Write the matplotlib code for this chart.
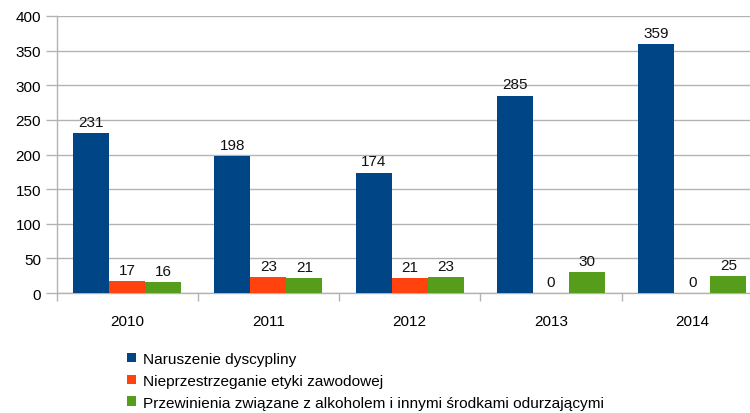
import matplotlib.pyplot as plt
import numpy as np
from matplotlib.patches import Patch

plt.rcParams['font.family'] = ['Liberation Sans', 'DejaVu Sans']

years = ["2010", "2011", "2012", "2013", "2014"]
dyscyplina = [231, 198, 174, 285, 359]
etyka = [17, 23, 21, 0, 0]
alkohol = [16, 21, 23, 30, 25]

series_names = ["Naruszenie dyscypliny",
                "Nieprzestrzeganie etyki zawodowej",
                "Przewinienia związane z alkoholem i innymi środkami odurzającymi"]
colors = ["#004586", "#ff420e", "#579d1c"]

fig = plt.figure(figsize=(7.5, 4.14), dpi=100)
ax = fig.add_axes([56.5 / 750, 1 - 294 / 414, 141.3 * 5 / 750, (294 - 17) / 414])

x = np.arange(len(years))
w = 0.255
grey = "#b3b3b3"

for i, vals in enumerate([dyscyplina, etyka, alkohol]):
    pos = x + (i - 1) * w
    ax.bar(pos, vals, width=w, color=colors[i], zorder=3)
    for p, v in zip(pos, vals):
        ax.text(p, v + 6, str(v), ha="center", va="bottom",
                fontsize=11, color="#111111")

ax.set_xlim(-0.5, len(years) - 0.5)
ax.set_ylim(0, 400)
ax.set_yticks(range(0, 401, 50))
ax.set_xticks(x)
ax.set_xticklabels(years)
ax.set_xticks(np.arange(-0.5, len(years), 1), minor=True)
ax.tick_params(axis="x", which="major", length=0, pad=15, labelsize=11)
ax.tick_params(axis="x", which="minor", length=6, color=grey, width=1)
ax.tick_params(axis="y", length=8, color=grey, width=1, pad=3, labelsize=11)
ax.grid(axis="y", color=grey, linewidth=1, zorder=0)

for side in ["top", "right"]:
    ax.spines[side].set_visible(False)
for side in ["left", "bottom"]:
    ax.spines[side].set_color(grey)
    ax.spines[side].set_linewidth(1)
ax.spines["left"].set_bounds(0, 400)

handles = [Patch(facecolor=c, edgecolor="none") for c in colors]
fig.legend(handles, series_names, loc="upper left",
           bbox_to_anchor=(121 / 750, 1 - 347 / 414), frameon=False,
           fontsize=11.1, handlelength=0.55, handleheight=0.55,
           handletextpad=0.45, labelspacing=0.5, borderaxespad=0)

fig.savefig("out.png", dpi=100)
